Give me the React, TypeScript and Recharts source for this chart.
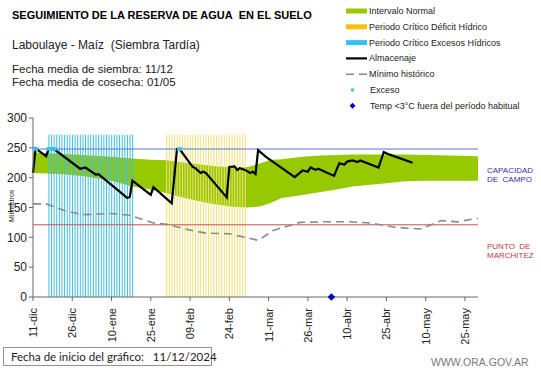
import React from 'react'
import {
  ComposedChart,
  Area,
  Bar,
  Line,
  Scatter,
  XAxis,
  YAxis,
  ReferenceLine,
} from 'recharts'

// eje x: dias desde el 11-dic
const diasEje = [0, 15, 30, 45, 60, 75, 90, 105, 120, 135, 150, 165]
const fechasEje = ['11-dic', '26-dic', '10-ene', '25-ene', '09-feb', '24-feb', '11-mar', '26-mar', '10-abr', '25-abr', '10-may', '25-may']
const ticksY = [0, 50, 100, 150, 200, 250, 300]

// intervalo normal (banda verde)
const bandaDias = [0, 10, 19, 30, 38, 45, 51, 58, 64, 70, 77, 82, 87, 91, 95, 103, 110, 116, 122, 129, 136, 142, 150, 160, 170]
const bandaMin = [208, 206, 203, 195, 185, 180, 174, 166, 160, 155, 151, 150, 152, 158, 166, 171, 176, 180, 185, 188, 191, 194, 195, 195, 195]
const bandaMax = [242, 240, 238, 235, 232, 230, 229, 225, 222, 219, 217, 218, 224, 230, 231, 235, 237, 238, 239, 239, 239, 239, 238, 237, 236]

// almacenaje
const almDias = [0, 1, 5, 6, 8, 18, 20, 24, 25, 36, 37, 38, 45, 46, 53, 55, 56, 61, 62, 64, 65, 66, 74, 75, 77, 78, 79, 81, 83, 84, 85, 86, 89, 100, 103, 105, 106, 108, 109, 115, 117, 119, 120, 122, 124, 125, 132, 134, 136, 145]
const almValores = [208, 249, 236, 248, 248, 215, 217, 205, 206, 166, 168, 195, 171, 184, 157, 248, 248, 218, 216, 208, 210, 208, 167, 218, 219, 213, 216, 213, 208, 210, 206, 246, 235, 201, 212, 210, 217, 213, 215, 203, 224, 222, 227, 229, 226, 229, 217, 243, 239, 225]

// minimo historico
const minDias = [0, 5, 12, 19, 25, 30, 37, 46, 51, 59, 66, 75, 79, 86, 92, 102, 111, 121, 129, 138, 148, 156, 162, 170]
const minValores = [156, 156, 145, 138, 139, 140, 137, 124, 122, 113, 107, 106, 102, 95, 112, 125, 126, 126, 124, 117, 114, 128, 126, 132]

const excesoDias = [1, 6, 7, 8, 56]
const heladaDias = [114]

// periodos criticos [desde, hasta]
const periodoExceso = [6, 38]
const periodoDeficit = [51, 81]
const alturaPeriodo = 272

const capacidadCampo = 248
const puntoMarchitez = 121
const ultimoDia = 170

type Fila = {
  dia: number
  banda?: [number, number]
  alm?: number
  min?: number
  exceso?: number
  deficit?: number
}

const filas: Fila[] = []
for (let d = 0; d <= ultimoDia; d++) {
  const f: Fila = { dia: d }
  if (d >= periodoExceso[0] && d <= periodoExceso[1]) f.exceso = alturaPeriodo
  if (d >= periodoDeficit[0] && d <= periodoDeficit[1]) f.deficit = alturaPeriodo
  filas.push(f)
}
bandaDias.forEach((d, i) => { filas[d].banda = [bandaMin[i], bandaMax[i]] })
almDias.forEach((d, i) => { filas[d].alm = almValores[i] })
minDias.forEach((d, i) => { filas[d].min = minValores[i] })

const puntosExceso = excesoDias.map((d) => ({ dia: d, v: capacidadCampo }))
const puntosHelada = heladaDias.map((d) => ({ dia: d, v: 0 }))

const ARIAL = 'Arial, "Liberation Sans", sans-serif'

function TickFecha(props: any) {
  const { x, y, payload } = props
  const i = diasEje.indexOf(payload.value)
  return (
    <text
      transform={`translate(${x + 4},${y + 5}) rotate(-90)`}
      textAnchor="end"
      fontSize={11}
      fontFamily={ARIAL}
      fill="#222"
    >
      {fechasEje[i]}
    </text>
  )
}

function PuntoExceso(props: any) {
  const { cx, cy } = props
  return <rect x={cx - 2.5} y={cy - 1.8} width={5} height={3.6} fill="#33C3EE" />
}

function Rombo(props: any) {
  const { cx, cy } = props
  return <path d={`M${cx} ${cy - 3.8}L${cx + 3.8} ${cy}L${cx} ${cy + 3.8}L${cx - 3.8} ${cy}Z`} fill="#0000CC" />
}

const leyenda = [
  { tipo: 'barra', color: '#97C900', texto: 'Intervalo Normal' },
  { tipo: 'barra', color: '#FFC000', texto: 'Periodo Crítico Déficit Hídrico' },
  { tipo: 'barra', color: '#33C3EE', texto: 'Periodo Crítico Excesos Hídricos' },
  { tipo: 'linea', color: '#000', texto: 'Almacenaje' },
  { tipo: 'guion', color: '#888', texto: 'Mínimo histórico' },
  { tipo: 'punto', color: '#33C3EE', texto: 'Exceso' },
  { tipo: 'rombo', color: '#0000CC', texto: 'Temp <3°C fuera del período habitual' },
]

function Leyenda() {
  return (
    <svg width={200} height={116} style={{ position: 'absolute', left: 341, top: 2 }}>
      {leyenda.map((e, i) => {
        const cy = 9 + i * 15.8
        let marca = null
        if (e.tipo === 'barra') marca = <rect x={5} y={cy - 2.5} width={21} height={5} fill={e.color} />
        if (e.tipo === 'linea') marca = <line x1={5} x2={26} y1={cy} y2={cy} stroke={e.color} strokeWidth={2.2} />
        if (e.tipo === 'guion') marca = <line x1={5} x2={26} y1={cy} y2={cy} stroke={e.color} strokeWidth={1.5} strokeDasharray="8 5" />
        if (e.tipo === 'punto') marca = <rect x={10} y={cy - 1.5} width={3} height={3} fill={e.color} />
        if (e.tipo === 'rombo') marca = <path d={`M11.5 ${cy - 3}L14.5 ${cy}L11.5 ${cy + 3}L8.5 ${cy}Z`} fill={e.color} />
        return (
          <g key={e.texto}>
            {marca}
            <text
              x={e.tipo === 'punto' || e.tipo === 'rombo' ? 29 : 28}
              y={cy + 3}
              fontSize={9}
              fontFamily={ARIAL}
              fill="#222"
            >
              {e.texto}
            </text>
          </g>
        )
      })}
    </svg>
  )
}

const abs = (left: number, top: number, extra: React.CSSProperties = {}): React.CSSProperties => ({
  position: 'absolute',
  left,
  top,
  whiteSpace: 'nowrap',
  fontFamily: ARIAL,
  lineHeight: 1,
  ...extra,
})

export default function App() {
  return (
    <div style={{ position: 'absolute', left: 0, top: 0, width: 541, height: 368, background: '#fff', overflow: 'hidden' }}>
      <ComposedChart
        width={541}
        height={368}
        data={filas}
        margin={{ top: 118, right: 63, left: 0, bottom: 31 }}
        style={{ position: 'absolute', left: 0, top: 0 }}
      >
        <XAxis
          dataKey="dia"
          type="number"
          domain={[0, ultimoDia]}
          ticks={diasEje}
          tick={<TickFecha />}
          interval={0}
          height={40}
          axisLine={{ stroke: '#666' }}
          tickLine={{ stroke: '#666' }}
          tickSize={4}
        />
        <YAxis
          type="number"
          domain={[0, 300]}
          ticks={ticksY}
          width={33}
          tick={{ fontSize: 12, fill: '#222', fontFamily: ARIAL }}
          axisLine={{ stroke: '#666' }}
          tickLine={{ stroke: '#666' }}
          tickSize={4}
          tickMargin={2}
        />
        <Area
          dataKey="banda"
          type="linear"
          fill="#97C900"
          fillOpacity={1}
          stroke="none"
          connectNulls
          isAnimationActive={false}
        />
        <Bar dataKey="exceso" stackId="p" barSize={1} fill="#3DBEE0" isAnimationActive={false} />
        <Bar dataKey="deficit" stackId="p" barSize={1} fill="#EFE07A" isAnimationActive={false} />
        <ReferenceLine y={capacidadCampo} stroke="#4F7BD0" strokeWidth={1} />
        <ReferenceLine y={puntoMarchitez} stroke="#C8504D" strokeWidth={1} />
        <Line
          dataKey="min"
          type="linear"
          stroke="#8A8A8A"
          strokeWidth={1.6}
          strokeDasharray="8 5"
          dot={false}
          connectNulls
          isAnimationActive={false}
        />
        <Line
          dataKey="alm"
          type="linear"
          stroke="#000"
          strokeWidth={2.2}
          dot={false}
          connectNulls
          isAnimationActive={false}
        />
        <Scatter data={puntosExceso} dataKey="v" shape={<PuntoExceso />} legendType="none" isAnimationActive={false} />
        <Scatter data={puntosHelada} dataKey="v" shape={<Rombo />} legendType="none" isAnimationActive={false} />
      </ComposedChart>

      <div style={abs(12, 10, { fontSize: 11, fontWeight: 'bold', color: '#000' })}>
        SEGUIMIENTO DE LA RESERVA DE AGUA&nbsp; EN EL SUELO
      </div>
      <div style={abs(12, 39, { fontSize: 12, color: '#222' })}>Laboulaye - Maíz&nbsp; (Siembra Tardía)</div>
      <div style={abs(12, 64, { fontSize: 11.5, color: '#222' })}>Fecha media de siembra: 11/12</div>
      <div style={abs(12, 76.5, { fontSize: 11.5, color: '#222' })}>Fecha media de cosecha: 01/05</div>

      <Leyenda />

      <div style={abs(487, 166, { fontSize: 8, color: '#3333A8', lineHeight: '9px' })}>
        CAPACIDAD<br />DE&nbsp; CAMPO
      </div>
      <div style={abs(487, 242, { fontSize: 8, color: '#B8403A', lineHeight: '9px' })}>
        PUNTO&nbsp; DE<br />MARCHITEZ
      </div>

      <div
        style={abs(2, 207, {
          fontSize: 7,
          color: '#222',
          transform: 'translate(0, -50%) rotate(-90deg)',
          transformOrigin: 'center',
          width: 30,
          textAlign: 'center',
          left: -4,
        })}
      >
        Milímetros
      </div>

      <div
        style={abs(3, 347, {
          width: 209,
          height: 19,
          border: '1px solid #A08C8C',
          boxSizing: 'border-box',
          fontFamily: 'Lato, "Open Sans", sans-serif',
          fontSize: 11.5,
          color: '#222',
          paddingLeft: 7,
          paddingTop: 3,
        })}
      >
        Fecha de inicio del gráfico:&nbsp;&nbsp; 11/12/2024
      </div>
      <div style={abs(431, 357, { fontSize: 10.5, color: '#7A7A7A' })}>WWW.ORA.GOV.AR</div>
    </div>
  )
}
